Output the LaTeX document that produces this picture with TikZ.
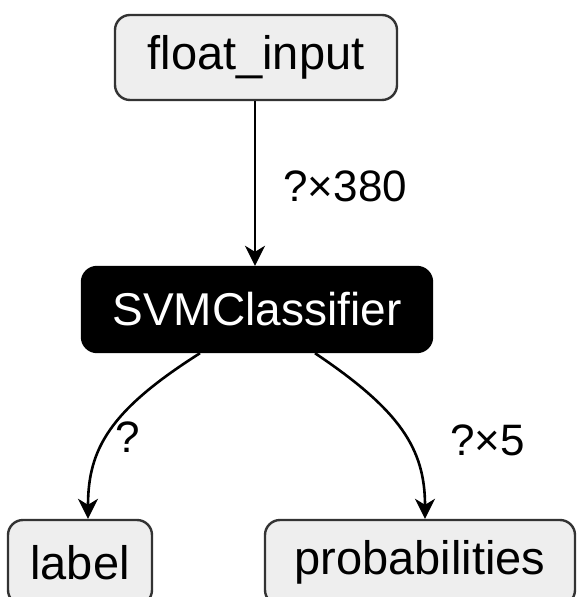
\documentclass[tikz,border=0pt]{standalone}
\usepackage{fontspec}
\setmainfont{Liberation Sans}
\usetikzlibrary{arrows.meta}
\definecolor{iofill}{RGB}{238,238,238}
\definecolor{ioline}{RGB}{51,51,51}

\begin{document}
\begin{tikzpicture}[x=0.5pt, y=-0.5pt,
  iobox/.style={draw=ioline, fill=iofill, line width=1.2pt, rounded corners=7.5pt, minimum height=42.5pt, inner sep=0pt, font=\fontsize{23.5}{28}\selectfont},
  opbox/.style={draw=black, fill=black, text=white, line width=1.2pt, rounded corners=7.5pt, minimum height=42.5pt, inner sep=0pt, font=\fontsize{23}{28}\selectfont},
  flow/.style={draw, line width=1.3pt, -{Stealth[length=10pt,width=10pt,inset=3pt]}},
  dimlabel/.style={font=\fontsize{22}{26}\selectfont, inner sep=0pt, anchor=west}]
  \useasboundingbox (0,0) rectangle (576,597);

  % graph nodes
  \node[iobox, minimum width=141pt] (floatin) at (256,57.5) {float\_input};
  \node[opbox, minimum width=175pt] (svm) at (257,309.5) {SVMClassifier};
  \node[iobox, minimum width=72pt] (lbl) at (80,562.5) {label};
  \node[iobox, minimum width=155pt] (probs) at (420,562.5) {probabilities};

  % shape labels
  \node[dimlabel] (dimin) at (283,186) {?×380};
  \node[dimlabel] (dimlbl) at (115,437) {?};
  \node[dimlabel] (dimprobs) at (450,440) {?×5};

  % edges
  \draw[flow] ([xshift=-0.5pt]floatin.south) -- ([xshift=-1pt]svm.north);
  \draw[flow] ([xshift=-28.5pt]svm.south) .. controls +(-90,57) and +(0,-70) .. ([xshift=4pt]lbl.north);
  \draw[flow] ([xshift=29pt]svm.south) .. controls +(85,57) and +(0,-70) .. ([xshift=2.5pt]probs.north);
\end{tikzpicture}
\end{document}
